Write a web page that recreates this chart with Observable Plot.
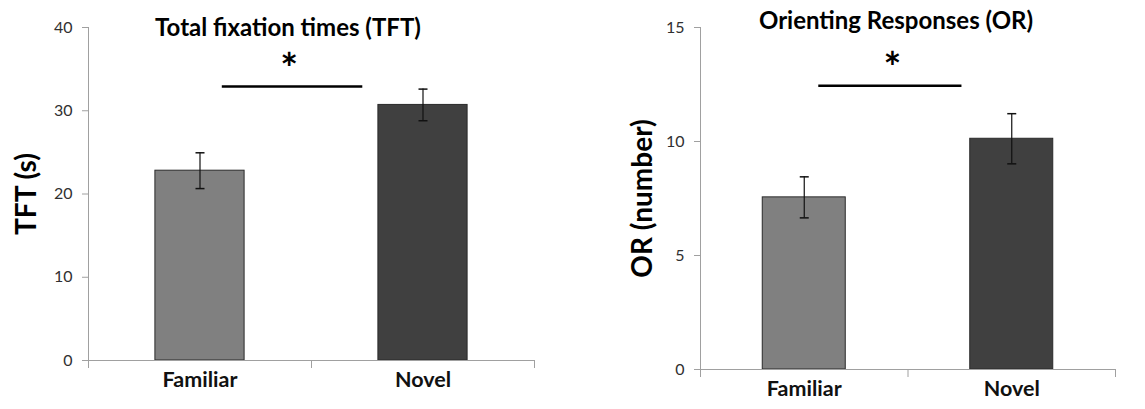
<!DOCTYPE html>
<html>
<head>
<meta charset="utf-8">
<script src="https://cdn.jsdelivr.net/npm/d3@7"></script>
<script src="https://cdn.jsdelivr.net/npm/@observablehq/plot@0.6"></script>
<style>
  html, body { margin: 0; padding: 0; background: #fff; }
  #wrap { position: relative; width: 1145px; height: 409px; overflow: hidden; font-family: Lato, sans-serif; }
  .panel { position: absolute; top: 0; }
  .title { position: absolute; font-weight: bold; font-size: 24px; color: #000; white-space: nowrap; transform: translateX(-50%); line-height: 1; }
</style>
</head>
<body>
<div id="wrap">
  <div class="panel" id="left"></div>
  <div class="panel" id="right"></div>
  <div class="title" style="left:288px; top:15px;">Total fixation times (TFT)</div>
  <div class="title" style="left:896px; top:8px;">Orienting Responses (OR)</div>
</div>
<script>
const categories = ["Familiar", "Novel"];
const tftMeans = [22.8, 30.7];
const tftErrors = [2.15, 1.9];
const orMeans = [7.55, 10.12];
const orErrors = [0.9, 1.1];
const tftTicks = [0, 10, 20, 30, 40];
const orTicks = [0, 5, 10, 15];
// significance bracket: [start, end, level] in x-index units and y units
const tftSig = [0.6, 1.23, 32.9];
const orSig = [0.57, 1.26, 12.45];
// asterisk position [x, y]
const tftStar = [0.9, 34.8];
const orStar = [0.925, 13.15];

const barFills = ["#808080", "#404040"];
const capSymbol = {
  draw(context, size) {
    const r = Math.sqrt(size / Math.PI);
    context.moveTo(-r, 0);
    context.lineTo(r, 0);
  }
};

function panel({means, errors, ticks, label, sig, star, width, height, marginLeft, marginRight, marginTop, marginBottom, labelOffset}) {
  const rows = categories.map((c, i) => ({c, i: i + 0.5, m: means[i], lo: means[i] - errors[i], hi: means[i] + errors[i]}));
  const yMax = ticks[ticks.length - 1];
  return Plot.plot({
    width, height, marginLeft, marginRight, marginTop, marginBottom,
    style: {fontFamily: "Lato, sans-serif", background: "transparent", color: "#333", overflow: "visible"},
    x: {domain: [0, categories.length], axis: null},
    y: {domain: [0, yMax], axis: null},
    color: {domain: categories, range: barFills},
    marks: [
      Plot.rectY(rows, {x1: d => d.i - 0.2, x2: d => d.i + 0.2, y1: 0, y2: "m", fill: "c", stroke: "#2a2a2a", strokeWidth: 1}),
      Plot.ruleX(rows, {x: "i", y1: "lo", y2: "hi", stroke: "#111", strokeWidth: 1.2}),
      Plot.dot(rows, {x: "i", y: "lo", symbol: capSymbol, r: 4.5, stroke: "#111", strokeWidth: 1.5, fill: "none"}),
      Plot.dot(rows, {x: "i", y: "hi", symbol: capSymbol, r: 4.5, stroke: "#111", strokeWidth: 1.5, fill: "none"}),
      Plot.ruleY([0], {stroke: "#a0a0a0", strokeWidth: 1}),
      Plot.ruleX([0], {y1: 0, y2: yMax, stroke: "#a0a0a0", strokeWidth: 1}),
      Plot.axisX({ticks: d3.range(categories.length + 1), tickSize: 8, tickFormat: () => "", stroke: "#a0a0a0", label: null}),
      Plot.axisX({ticks: categories.map((c, i) => i + 0.5), tickSize: 0, tickPadding: 11, tickFormat: v => categories[Math.floor(v)], label: null, fontSize: 21.5, fontWeight: "bold", fill: "#111"}),
      Plot.axisY({ticks, tickSize: 6, tickPadding: 10, stroke: "#a0a0a0", fill: "#303030", fontSize: 16, label, labelAnchor: "center", labelOffset, labelArrow: "none"}),
      Plot.ruleY([sig], {x1: d => d[0], x2: d => d[1], y: d => d[2], stroke: "#000", strokeWidth: 2.5}),
      Plot.text([star], {x: d => d[0], y: d => d[1], text: () => "*", fontSize: 42, fontWeight: "bold", fill: "#000"})
    ]
  });
}

const left = panel({means: tftMeans, errors: tftErrors, ticks: tftTicks, label: "TFT (s)", sig: tftSig, star: tftStar,
  width: 560, height: 409, marginLeft: 88, marginRight: 26, marginTop: 27, marginBottom: 49, labelOffset: 72});
const right = panel({means: orMeans, errors: orErrors, ticks: orTicks, label: "OR (number)", sig: orSig, star: orStar,
  width: 565, height: 409, marginLeft: 120, marginRight: 30, marginTop: 27, marginBottom: 40, labelOffset: 68});

// enlarge y-axis labels
for (const svg of [left, right]) {
  svg.querySelectorAll("g[aria-label='y-axis label'] text").forEach(t => {
    t.setAttribute("font-size", "28");
    t.setAttribute("font-weight", "bold");
    t.setAttribute("fill", "#000");
  });
}
document.getElementById("left").appendChild(left);
const r = document.getElementById("right");
r.style.left = "580px";
r.appendChild(right);
</script>
</body>
</html>
